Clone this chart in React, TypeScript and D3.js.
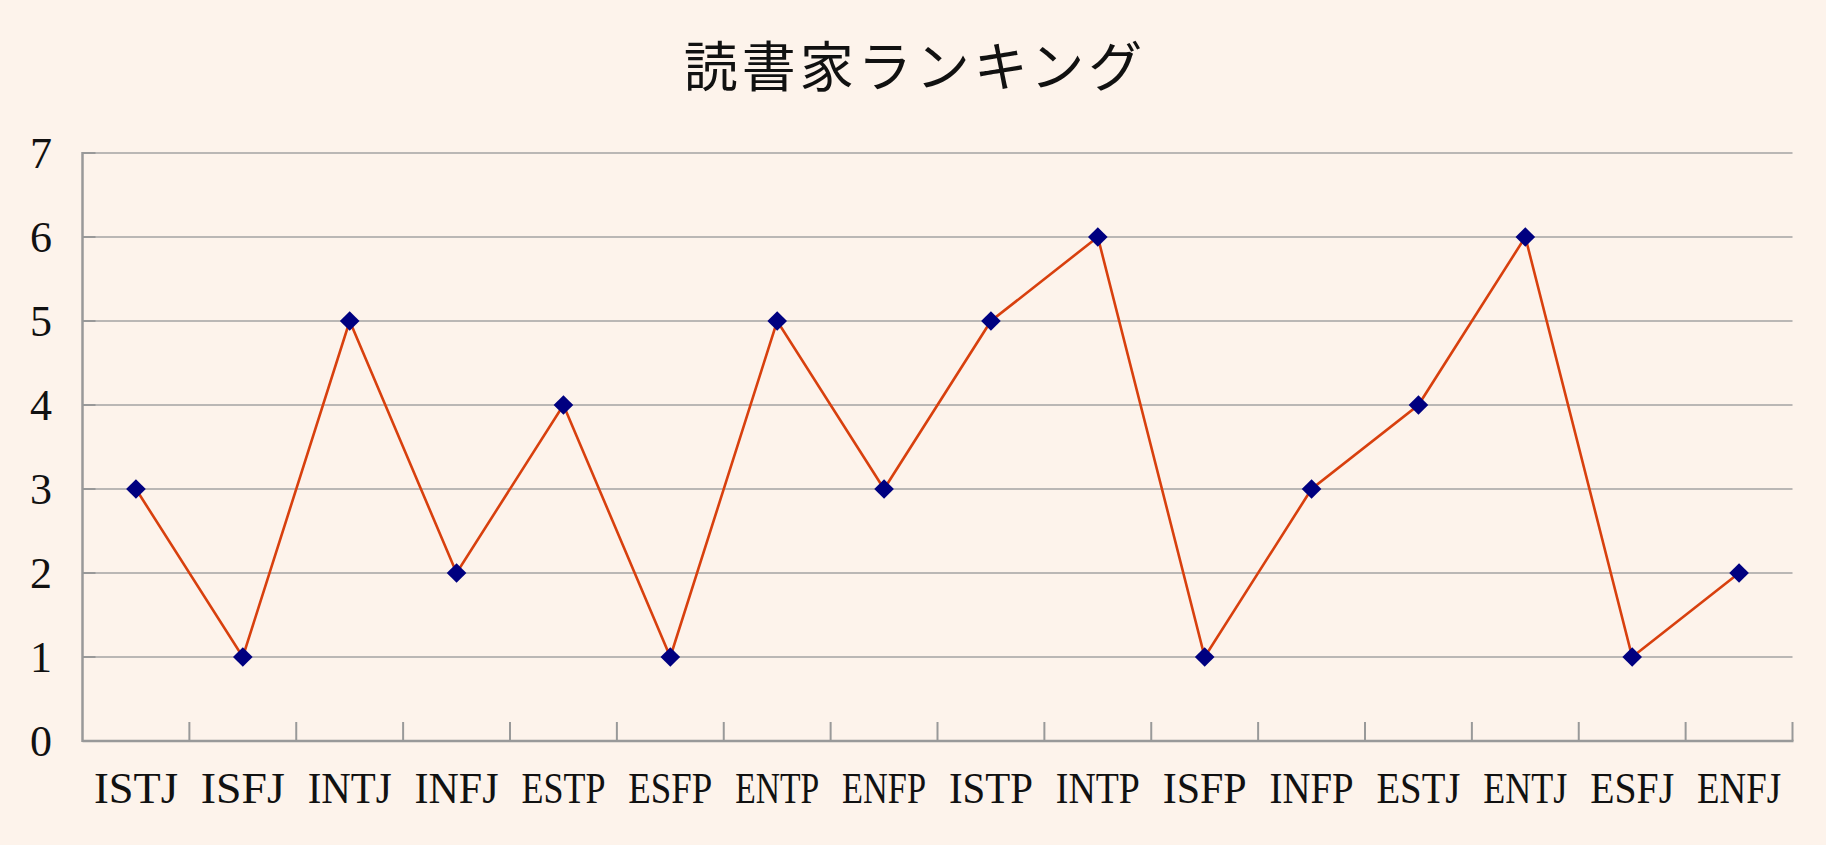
import React from "react";
import * as d3 from "d3";

const categories = ["ISTJ","ISFJ","INTJ","INFJ","ESTP","ESFP","ENTP","ENFP","ISTP","INTP","ISFP","INFP","ESTJ","ENTJ","ESFJ","ENFJ"];
const values = [3,1,5,2,4,1,5,3,5,6,1,3,4,6,1,2];
const yTicks = [0,1,2,3,4,5,6,7];
const title = "読書家ランキング";

const W = 1826, H = 845;
const left = 82.5, right = 1792.5, bottom = 741, top = 153;

export default function App() {
  const x = d3.scaleBand<string>().domain(categories).range([left, right]).padding(0);
  const y = d3.scaleLinear().domain([0, 7]).range([bottom, top]);
  const cx = (i: number) => (x(categories[i]) as number) + x.bandwidth() / 2;
  const line = d3.line<number>()
    .x((_, i) => cx(i))
    .y((d) => y(d));
  const boundaries = categories.map((c) => (x(c) as number) + x.bandwidth());
  const serif = "'Liberation Serif', 'DejaVu Serif', serif";
  const r = 9.8;
  const diamond = `M0,${-r}L${r},0L0,${r}L${-r},0Z`;
  return (
    <svg width={W} height={H} style={{ position: "fixed", left: 0, top: 0 }}>
      <rect x={0} y={0} width={W} height={H} fill="#fdf3eb" />
      <text x={W / 2 + 2} y={87} textAnchor="middle" fontFamily="'Noto Sans CJK JP', sans-serif" fontSize={54} letterSpacing={4} fill="#111">{title}</text>
      {yTicks.filter((t) => t > 0).map((t) => (
        <line key={"g" + t} x1={left} x2={right} y1={y(t)} y2={y(t)} stroke="#a3a3a3" strokeWidth={1.6} />
      ))}
      {yTicks.filter((t) => t > 0).map((t) => (
        <line key={"yt" + t} x1={left} x2={left + 13} y1={y(t)} y2={y(t)} stroke="#999" strokeWidth={2} />
      ))}
      {boundaries.map((bx, i) => (
        <line key={"xt" + i} x1={bx} x2={bx} y1={bottom} y2={bottom - 19} stroke="#999" strokeWidth={2} />
      ))}
      <line x1={left} x2={left} y1={top - 1} y2={bottom + 1} stroke="#999" strokeWidth={2.5} />
      <line x1={left} x2={right + 1} y1={bottom} y2={bottom} stroke="#999" strokeWidth={2.5} />
      {yTicks.map((t) => (
        <text key={"yl" + t} x={41} y={y(t) + 15} textAnchor="middle" fontFamily={serif} fontSize={44} fill="#111">{t}</text>
      ))}
      {categories.map((c, i) => (
        <text key={"xl" + c} x={cx(i) - 42} y={803} fontFamily={serif} fontSize={44} fill="#111" textLength={84} lengthAdjust="spacingAndGlyphs">{c}</text>
      ))}
      <path d={line(values) || ""} fill="none" stroke="#d8400e" strokeWidth={2.6} />
      {values.map((v, i) => (
        <path key={"m" + i} d={diamond} transform={`translate(${cx(i)},${y(v)})`} fill="#000080" />
      ))}
    </svg>
  );
}
